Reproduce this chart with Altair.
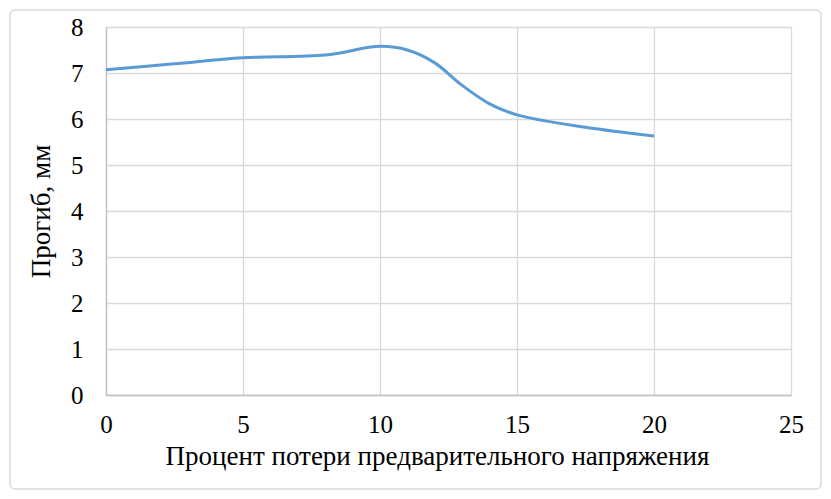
import altair as alt
import pandas as pd

x_vals = [0, 2.5, 5, 8, 10, 11, 12, 13, 14, 15, 17.5, 20]
y_vals = [7.07, 7.2, 7.33, 7.39, 7.58, 7.5, 7.22, 6.73, 6.33, 6.09, 5.82, 5.63]
x_title = "Процент потери предварительного напряжения"
y_title = "Прогиб, мм"

df = pd.DataFrame({"x": x_vals, "y": y_vals})

W, H = 685, 368
PL, PT, PR, PB = 98, 19, 32, 96
FONT = "Times New Roman, Liberation Serif, DejaVu Serif, serif"

border = alt.Chart(pd.DataFrame({"a": [0]})).mark_rect(
    fill=None, stroke="#d9d9d9", strokeWidth=1.5, cornerRadius=5, clip=False
).encode(
    x=alt.value(-PL + 2), x2=alt.value(W + PR - 2),
    y=alt.value(-PT + 2), y2=alt.value(H + PB - 2),
)

line = alt.Chart(df).mark_line(
    color="#5b9bd5", strokeWidth=3, interpolate="catmull-rom"
).encode(
    x=alt.X("x:Q", scale=alt.Scale(domain=[0, 25], nice=False),
            axis=alt.Axis(values=[0, 5, 10, 15, 20, 25], title=x_title,
                          grid=True, ticks=False, domainColor="#bfbfbf",
                          labelFlush=False, titleX=331, titleAlign="center",
                          labelPadding=17, titlePadding=6)),
    y=alt.Y("y:Q", scale=alt.Scale(domain=[0, 8], nice=False),
            axis=alt.Axis(values=list(range(0, 9)), title=y_title,
                          grid=True, ticks=False, domain=True,
                          domainColor="#bfbfbf", labelFlush=False,
                          labelPadding=23, titlePadding=15)),
)

chart = alt.layer(border, line).properties(
    width=W, height=H,
    autosize=alt.AutoSizeParams(type="none"),
    padding={"left": PL, "top": PT, "right": PR, "bottom": PB},
).configure_view(stroke=None).configure_axis(
    labelFont=FONT, titleFont=FONT, labelFontSize=25, titleFontSize=27,
    labelColor="#000000", titleColor="#000000", titleFontWeight="normal",
    gridColor="#d9d9d9", gridWidth=1.3, domainWidth=1.3,
)

chart.save("out.html", embed_options={"renderer": "svg", "actions": False})
